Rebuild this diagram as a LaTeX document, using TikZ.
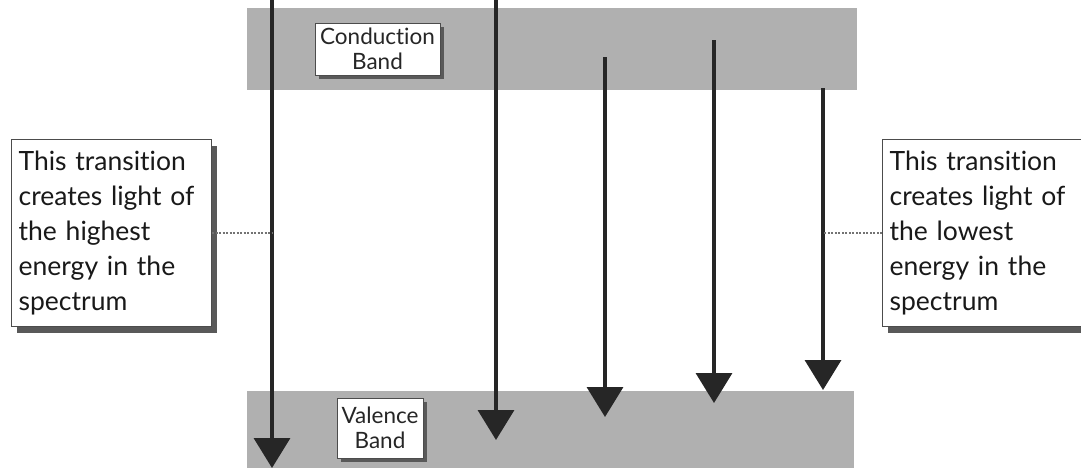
\documentclass[tikz,border=0pt]{standalone}
\usepackage{fontspec}
\setmainfont{Lato}[Ligatures=NoCommon]
\usetikzlibrary{arrows.meta,shadows}

\begin{document}
\begin{tikzpicture}[x=1pt,y=-1pt,
  band/.style={fill=black!31},
  note/.style={draw=black!70,line width=1.2pt,fill=white,anchor=north west,align=left,
    text width=186pt,minimum height=187pt,inner sep=7pt,text=black!90,
    font=\fontsize{26.5}{35}\selectfont,
    drop shadow={shadow xshift=5pt,shadow yshift=-6pt,fill=black!65,opacity=1}},
  tag/.style={draw=black!70,line width=1pt,fill=white,align=center,inner sep=0pt,text=black!85,
    font=\fontsize{22.5}{25}\selectfont,
    drop shadow={shadow xshift=4pt,shadow yshift=-4pt,fill=black!65,opacity=1}},
  trans/.style={line width=3.5pt,draw=black!85,-{Triangle[length=30pt,width=36pt]}},
  link/.style={line width=2pt,draw=black!55,dash pattern=on 2pt off 1.5pt}]
\useasboundingbox (0,0) rectangle (1081,467);
\clip (0,0) rectangle (1081,467);
% energy bands
\fill[band] (247,8) rectangle (857,90);
\fill[band] (247,391) rectangle (854,470);
% transitions
\foreach \x/\ya/\yb [count=\i] in {272/-2/468,496/-2/440,605/57/417,714/40/403,823/88/390}{
  \coordinate (top\i) at (\x,\ya);
  \coordinate (bot\i) at (\x,\yb);
  \draw[trans] (top\i) -- (bot\i);
}
% band labels
\node[tag,minimum width=125pt,minimum height=52pt] (cb) at (377.5,49) {Conduction\\Band};
\node[tag,minimum width=86pt,minimum height=60pt] (vb) at (380,428) {Valence\\Band};
% notes
\node[note] (hi) at (11,139) {This transition\\creates light of\\the highest\\energy in the\\spectrum};
\node[note] (lo) at (882,139) {This transition\\creates light of\\the lowest\\energy in the\\spectrum};
\draw[link] (hi.east) -- (hi.east -| top1);
\draw[link] (lo.west) -- (lo.west -| top5);
\end{tikzpicture}
\end{document}
